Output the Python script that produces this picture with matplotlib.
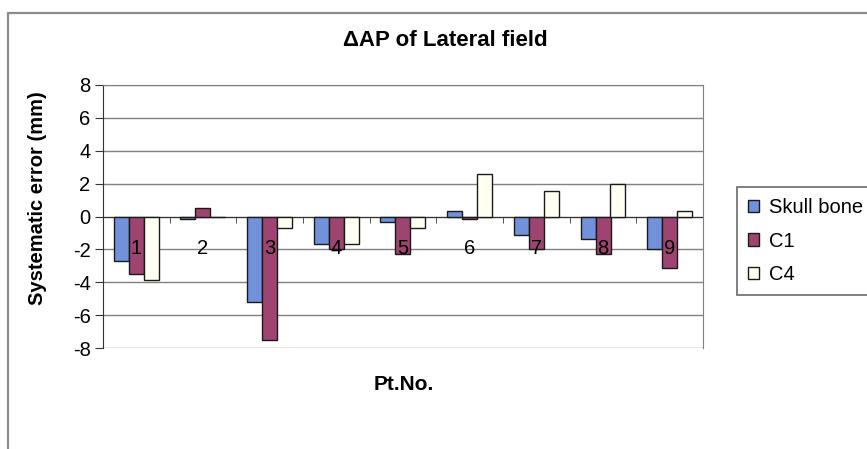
import numpy as np
import matplotlib
matplotlib.use("Agg")
import matplotlib.pyplot as plt
from matplotlib.patches import Rectangle

plt.rcParams['font.family'] = ['Liberation Sans', 'DejaVu Sans']

# Data: systematic error (mm) per patient for each landmark
patients = ['1', '2', '3', '4', '5', '6', '7', '8', '9']
skull_bone = [-2.7, -0.15, -5.2, -1.7, -0.35, 0.35, -1.1, -1.35, -1.95]
c1 = [-3.5, 0.5, -7.5, -2.0, -2.3, -0.15, -2.0, -2.3, -3.15]
c4 = [-3.85, 0.0, -0.7, -1.65, -0.7, 2.6, 1.55, 2.0, 0.35]
series_names = ['Skull bone', 'C1', 'C4']
series_colors = ['#7191da', '#9e4470', '#fffff2']
y_ticks = [-8, -6, -4, -2, 0, 2, 4, 6, 8]

W, H = 867, 449
fig = plt.figure(figsize=(W / 100, H / 100), dpi=100)
fig.patch.set_facecolor('white')

# chart-area frame
fig.add_artist(Rectangle((8 / W, -0.1), 1.2, 1 - 13 / H + 0.1, transform=fig.transFigure,
                         fill=False, edgecolor='#8c8c8c', linewidth=1.6, zorder=0))

left, right, top, bottom = 103, 703, 85, 348
ax = fig.add_axes([left / W, 1 - bottom / H, (right - left) / W, (bottom - top) / H])

x = np.arange(len(patients))
width = 0.225
for i, (vals, name, col) in enumerate(zip([skull_bone, c1, c4], series_names, series_colors)):
    ax.bar(x + (i - 1) * width, vals, width, color=col, edgecolor='#1a1a1a',
           linewidth=1.0, label=name, zorder=3)

ax.set_xlim(-0.5, len(patients) - 0.5)
ax.set_ylim(-8, 8)
ax.set_yticks(y_ticks)
ax.set_yticklabels([str(v) for v in y_ticks], fontsize=14.5)
ax.yaxis.grid(True, color='#808080', linewidth=1.0, zorder=0)
ax.set_axisbelow(True)

# category axis crossing at zero
ax.spines['bottom'].set_position(('data', 0))
ax.spines['bottom'].set_color('#333333')
ax.spines['bottom'].set_zorder(2)
ax.spines['left'].set_color('#333333')
ax.spines['top'].set_color('#808080')
ax.spines['right'].set_color('#808080')
ax.set_xticks(x)
ax.set_xticklabels([])
ax.set_xticks(np.arange(len(patients) + 1) - 0.5, minor=True)
ax.tick_params(axis='x', which='major', length=0)
ax.tick_params(axis='x', which='minor', length=4, color='#333333', direction='out')
ax.tick_params(axis='y', length=6, color='#333333', pad=3)

# category labels sit just under the zero line, drawn over the bars
for xi, lab in zip(x, patients):
    ax.annotate(lab, xy=(xi, 0), xytext=(0, -16), textcoords='offset points',
                ha='center', va='top', fontsize=14.5, zorder=6, annotation_clip=False)

fig.text(445 / W, 1 - 41 / H, 'ΔAP of Lateral field', ha='center', va='center',
         fontsize=16, fontweight='bold')
fig.text(38 / W, 1 - 198 / H, 'Systematic error (mm)', rotation=90, ha='center',
         va='center', fontsize=14.5, fontweight='bold')
fig.text(404 / W, 1 - 385 / H, 'Pt.No.', ha='center', va='center',
         fontsize=15, fontweight='bold')

leg = fig.legend(loc='upper left', bbox_to_anchor=(737 / W, 1 - 187 / H),
                 bbox_transform=fig.transFigure, borderaxespad=0, fontsize=14.5,
                 frameon=True, fancybox=False, handlelength=0.55, handleheight=0.55,
                 handletextpad=0.5, labelspacing=0.72, borderpad=0.55)
leg.get_frame().set_edgecolor('#444444')
leg.get_frame().set_linewidth(1.2)

fig.savefig('out.png', dpi=100)
